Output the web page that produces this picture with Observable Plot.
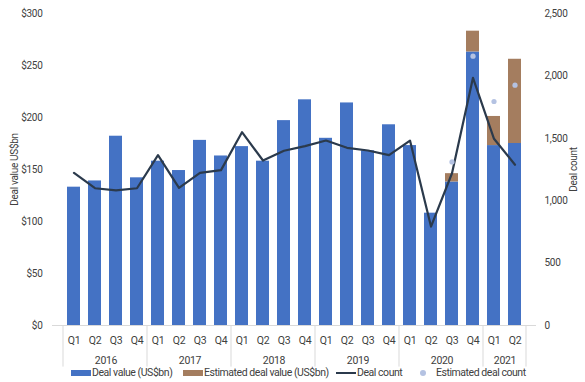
<!DOCTYPE html>
<html>
<head>
<meta charset="utf-8">
<script src="https://cdn.jsdelivr.net/npm/d3@7"></script>
<script src="https://cdn.jsdelivr.net/npm/@observablehq/plot@0.6"></script>
<style>
  html, body { margin: 0; padding: 0; background: #fff; }
  #wrap { position: relative; width: 585px; height: 382px; font-family: Roboto, sans-serif; color: #404040; }
  .leg { position: absolute; top: 367px; font-size: 10.5px; letter-spacing: -0.45px; line-height: 12px; white-space: nowrap; display: flex; align-items: center; }
  .sw { display: inline-block; margin-right: 1px; }
  svg text { letter-spacing: -0.3px; }
</style>
</head>
<body>
<div id="wrap"></div>
<script>
const years = ["2016", "2017", "2018", "2019", "2020", "2021"];
const quarters = ["Q1", "Q2", "Q3", "Q4"];
const periods = [
  "2016 Q1","2016 Q2","2016 Q3","2016 Q4",
  "2017 Q1","2017 Q2","2017 Q3","2017 Q4",
  "2018 Q1","2018 Q2","2018 Q3","2018 Q4",
  "2019 Q1","2019 Q2","2019 Q3","2019 Q4",
  "2020 Q1","2020 Q2","2020 Q3","2020 Q4",
  "2021 Q1","2021 Q2"
];
// Deal value (US$bn)
const dealValue = [133,139,182,142, 158,149,178,163, 172,158,197,217, 180,214,168,193, 173,108,138,263, 173,175];
// Estimated deal value (US$bn), total bar height incl. reported value
const estimatedValue = [null,null,null,null, null,null,null,null, null,null,null,null, null,null,null,null, null,null,146,283, 201,256];
// Deal count
const dealCount = [1223,1100,1082,1100, 1365,1103,1223,1245, 1549,1322,1400,1437, 1482,1424,1402,1365, 1482,793,1220,1985, 1496,1288];
// Estimated deal count
const estimatedCount = [null,null,null,null, null,null,null,null, null,null,null,null, null,null,null,null, null,null,1311,2158, 1795,1926];
// Axis ticks
const valueTicks = [0, 50, 100, 150, 200, 250, 300];
const countTicks = [0, 500, 1000, 1500, 2000, 2500];

const valueMax = 300, countMax = 2500;
const k = valueMax / countMax;

const rows = periods.map((p, i) => ({
  period: p, year: p.split(" ")[0], q: p.split(" ")[1],
  value: dealValue[i], est: estimatedValue[i],
  count: dealCount[i], estCount: estimatedCount[i]
}));
const estRows = rows.filter(d => d.est != null);
const estCountRows = rows.filter(d => d.estCount != null);
const firstOfYear = years.map(y => rows.find(d => d.year === y));
// anchor each year label at the band just left of the group's middle
const yearLabelRows = years.map(y => {
  const r = rows.filter(d => d.year === y);
  return {year: y, period: r[Math.floor((r.length - 1) / 2)].period};
});

const blue = "#4472C4", brown = "#A47D5F", navy = "#2B3A4C", lav = "#B4C2E2", txt = "#404040";
const step = (585 - 52 - 49) / periods.length;

const chart = Plot.plot({
  width: 585,
  height: 382,
  marginLeft: 52,
  marginRight: 49,
  marginTop: 13,
  marginBottom: 57,
  style: {fontFamily: "Roboto, sans-serif", fontSize: "10px", color: txt, background: "#fff"},
  x: {type: "band", domain: periods, padding: 0.36, axis: null},
  y: {domain: [0, valueMax], axis: null},
  marks: [
    Plot.barY(rows, {x: "period", y: "value", fill: blue}),
    Plot.barY(estRows, {x: "period", y1: "value", y2: "est", fill: brown}),
    Plot.ruleY([0], {stroke: "#d9d9d9"}),
    Plot.ruleX(firstOfYear, {x: "period", y1: 0, y2: -40, dx: -step / 2, stroke: "#d9d9d9"}),
    Plot.ruleX([rows[rows.length - 1]], {x: "period", y1: 0, y2: -40, dx: step / 2, stroke: "#d9d9d9"}),
    Plot.line(rows, {x: "period", y: d => d.count * k, stroke: navy, strokeWidth: 2.2}),
    Plot.dot(estCountRows, {x: "period", y: d => d.estCount * k, fill: lav, r: 2.6}),
    Plot.axisX({domain: periods, tickSize: 0, tickPadding: 11, tickFormat: d => d.split(" ")[1], fill: txt, fontSize: 10.5, label: null}),
    Plot.text(yearLabelRows, {x: "period", y: 0, text: "year", dy: 35, dx: step / 2, fill: txt, fontSize: 10.5}),
    Plot.axisY({anchor: "left", ticks: valueTicks, tickSize: 0, tickPadding: 10,
      tickFormat: d => "$" + d, fill: txt, fontSize: 10,
      label: "Deal value US$bn", labelAnchor: "center", labelArrow: false, labelOffset: 42}),
    Plot.axisY({anchor: "right", ticks: countTicks.map(c => c * k), tickSize: 0, tickPadding: 8,
      tickFormat: d => d3.format(",")(Math.round(d / k)), fill: txt, fontSize: 10,
      label: "Deal count", labelAnchor: "center", labelArrow: false, labelOffset: 40})
  ]
});

const wrap = document.getElementById("wrap");
wrap.appendChild(chart);

const legendItems = [
  {label: "Deal value (US$bn)", left: 71, sw: `<span class="sw" style="width:20px;height:6px;background:${blue}"></span>`},
  {label: "Estimated deal value (US$bn)", left: 183, sw: `<span class="sw" style="width:20px;height:6px;background:${brown}"></span>`},
  {label: "Deal count", left: 336, sw: `<span class="sw" style="width:20px;height:2.5px;background:${navy}"></span>`},
  {label: "Estimated deal count", left: 420, sw: `<span class="sw" style="width:6px;height:6px;border-radius:50%;background:${lav};margin-right:10px"></span>`}
];
for (const it of legendItems) {
  const el = document.createElement("div");
  el.className = "leg";
  el.style.left = it.left + "px";
  el.innerHTML = it.sw + `<span>${it.label}</span>`;
  wrap.appendChild(el);
}
</script>
</body>
</html>
